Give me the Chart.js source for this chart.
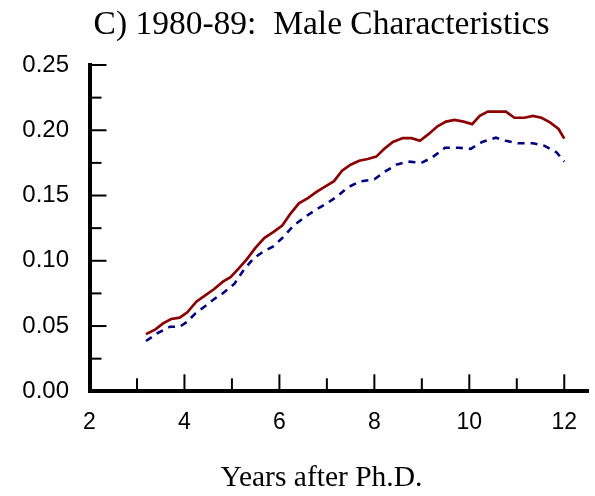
<!DOCTYPE html>
<html><head><meta charset="utf-8">
<script src="https://cdn.jsdelivr.net/npm/chart.js@4/dist/chart.umd.min.js"></script>
<style>html,body{margin:0;padding:0;background:#fff;}</style>
</head><body>
<canvas id="c" width="595" height="496" style="display:block;width:595px;height:496px"></canvas>
<script>
const chartTitle = 'C) 1980-89:  Male Characteristics';
const xAxisTitle = 'Years after Ph.D.';

const xTickValues = [2, 3, 4, 5, 6, 7, 8, 9, 10, 11, 12];
const xTickLabels = ['2', '', '4', '', '6', '', '8', '', '10', '', '12'];
const yTickValues = [0, 0.025, 0.05, 0.075, 0.1, 0.125, 0.15, 0.175, 0.2, 0.225, 0.25];
const yTickLabels = ['0.00', '', '0.05', '', '0.10', '', '0.15', '', '0.20', '', '0.25'];

const solidYears = [3.19, 3.39, 3.55, 3.72, 3.90, 4.06, 4.25, 4.43, 4.62, 4.81, 4.97, 5.14, 5.32, 5.49, 5.68, 5.87, 6.06, 6.23, 6.41, 6.60, 6.79, 6.97, 7.15, 7.32, 7.50, 7.68, 7.86, 8.04, 8.21, 8.39, 8.60, 8.78, 8.96, 9.14, 9.33, 9.51, 9.69, 9.88, 10.06, 10.22, 10.39, 10.59, 10.77, 10.95, 11.16, 11.34, 11.52, 11.70, 11.88, 12.00];
const solidValues = [0.0438, 0.0474, 0.052, 0.0554, 0.0564, 0.0605, 0.0687, 0.0733, 0.0782, 0.084, 0.0874, 0.094, 0.1015, 0.1097, 0.1174, 0.122, 0.127, 0.136, 0.144, 0.148, 0.153, 0.157, 0.161, 0.169, 0.1736, 0.1767, 0.178, 0.1798, 0.1858, 0.191, 0.194, 0.194, 0.192, 0.197, 0.203, 0.2066, 0.208, 0.2066, 0.2047, 0.211, 0.2143, 0.2143, 0.2143, 0.2096, 0.2096, 0.211, 0.2096, 0.206, 0.201, 0.1936];

const dashedYears = [3.19, 3.42, 3.70, 3.90, 4.06, 4.23, 4.44, 4.62, 4.81, 5.05, 5.25, 5.46, 5.66, 5.87, 6.06, 6.30, 6.51, 6.76, 6.98, 7.22, 7.43, 7.68, 8.00, 8.21, 8.46, 8.71, 8.99, 9.21, 9.49, 9.78, 10.03, 10.27, 10.56, 10.77, 11.02, 11.34, 11.59, 11.84, 12.00];
const dashedValues = [0.0385, 0.0443, 0.0495, 0.0495, 0.0533, 0.0597, 0.0654, 0.0705, 0.0751, 0.0823, 0.093, 0.102, 0.107, 0.111, 0.1174, 0.127, 0.1328, 0.139, 0.1435, 0.1494, 0.156, 0.1606, 0.1624, 0.168, 0.1736, 0.176, 0.175, 0.179, 0.1866, 0.1866, 0.1858, 0.191, 0.1943, 0.192, 0.190, 0.190, 0.188, 0.183, 0.176];

const innerTicks = {
  id: 'innerTicks',
  afterLayout(chart) {
    // let the y tick labels draw to the left of the scale box (no clipping)
    chart.scales.y.left = 0;
  },
  afterDraw(chart) {
    const { ctx, chartArea: a, scales: { x, y } } = chart;
    ctx.save();
    ctx.strokeStyle = '#000';
    ctx.lineWidth = 2;
    y.ticks.forEach((t, i) => {
      const py = y.getPixelForValue(t.value);
      const len = yTickLabels[i] ? 17 : 12;
      ctx.beginPath(); ctx.moveTo(a.left, py); ctx.lineTo(a.left + len, py); ctx.stroke();
    });
    x.ticks.forEach((t, i) => {
      const px = x.getPixelForValue(t.value);
      const len = xTickLabels[i] ? 17 : 13;
      ctx.beginPath(); ctx.moveTo(px, a.bottom); ctx.lineTo(px, a.bottom - len); ctx.stroke();
    });
    ctx.restore();
  }
};

new Chart(document.getElementById('c'), {
  type: 'line',
  data: {
    datasets: [
      {
        label: 'solid',
        data: solidYears.map((v, i) => ({ x: v, y: solidValues[i] })),
        borderColor: '#8b0000', borderWidth: 2.7, pointRadius: 0, tension: 0, fill: false
      },
      {
        label: 'dashed',
        data: dashedYears.map((v, i) => ({ x: v, y: dashedValues[i] })),
        borderColor: '#000080', borderWidth: 2.6, borderDash: [7, 6], pointRadius: 0, tension: 0, fill: false
      }
    ]
  },
  options: {
    responsive: false,
    animation: false,
    devicePixelRatio: 1,
    layout: { padding: { left: 55, right: 7, top: 0, bottom: 0 } },
    plugins: {
      legend: { display: false },
      tooltip: { enabled: false },
      title: {
        display: true, text: chartTitle, color: '#000',
        font: { family: "'Liberation Serif', 'Times New Roman', serif", size: 33.5, weight: 'normal', lineHeight: 1.2 },
        padding: { top: 5, bottom: 19.8 }
      },
      subtitle: {
        display: true, text: xAxisTitle, position: 'bottom', color: '#000',
        font: { family: "'Liberation Serif', 'Times New Roman', serif", size: 29.5, weight: 'normal', lineHeight: 1.2 },
        padding: { top: 0, bottom: 0 }
      }
    },
    scales: {
      x: {
        type: 'linear', min: 2, max: 12.5,
        afterBuildTicks: s => { s.ticks = xTickValues.map(v => ({ value: v })); },
        afterFit: s => { s.height = 69.3; },
        ticks: {
          autoSkip: false, maxRotation: 0, padding: 17.5, color: '#000',
          font: { family: "'Liberation Sans', Arial, sans-serif", size: 23 },
          callback: (v, i) => xTickLabels[i]
        },
        grid: { drawOnChartArea: false, drawTicks: false },
        border: { display: true, color: '#000', width: 4 }
      },
      y: {
        type: 'linear', min: 0, max: 0.25,
        afterBuildTicks: s => { s.ticks = yTickValues.map(v => ({ value: v })); },
        afterFit: s => { s.width = 34.5; },
        ticks: {
          autoSkip: false, padding: 20.5, color: '#000',
          font: { family: "'Liberation Sans', Arial, sans-serif", size: 24 },
          callback: (v, i) => yTickLabels[i]
        },
        grid: { drawOnChartArea: false, drawTicks: false },
        border: { display: true, color: '#000', width: 4 }
      }
    }
  },
  plugins: [innerTicks]
});
</script>
</body></html>
